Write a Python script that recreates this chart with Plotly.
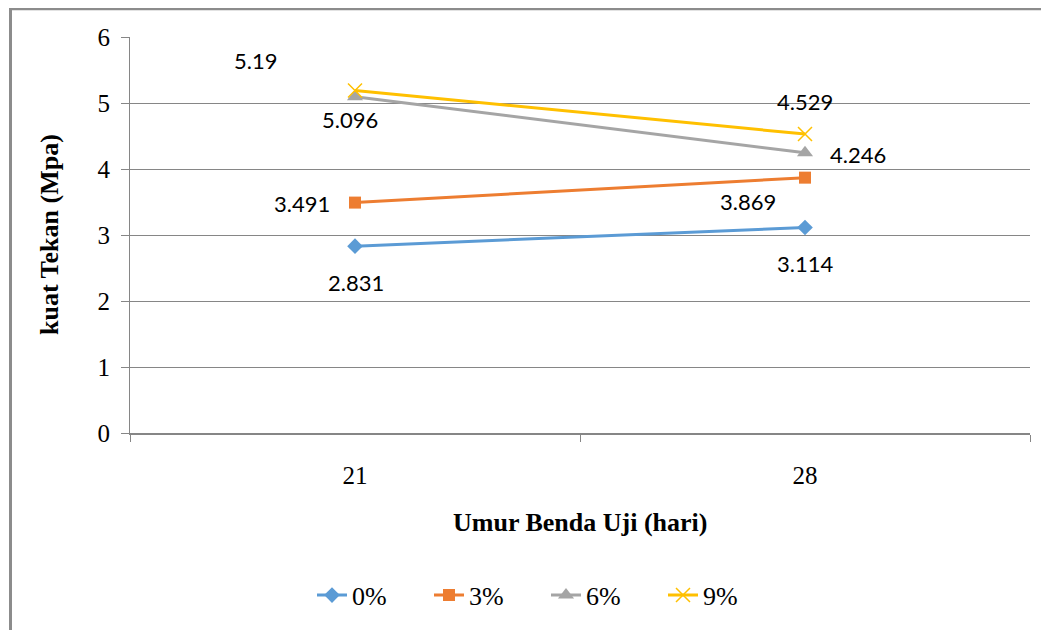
import plotly.graph_objects as go

categories = ["21", "28"]
series_names = ["0%", "3%", "6%", "9%"]
values_0 = [2.831, 3.114]
values_3 = [3.491, 3.869]
values_6 = [5.096, 4.246]
values_9 = [5.19, 4.529]
y_ticks = [0, 1, 2, 3, 4, 5, 6]

series_values = [values_0, values_3, values_6, values_9]
colors = ["#5B9BD5", "#ED7D31", "#A5A5A5", "#FFC000"]
symbols = ["diamond", "square", "triangle-up", "x-thin-open"]
msizes = [12, 12, 14, 14]
# label offsets (px) per series, per category
label_offsets = [
    [(1, -36), (0, -36)],
    [(-53, -1), (-57, -24)],
    [(-5, -23), (53, -2)],
    [(-100, 30), (0, 33)],
]

SERIF = "Liberation Serif, Times New Roman, Times, serif"

# page body has an 8px margin; figure is sized/offset to compensate
W, H = 1041, 622
L, T, R, B = 122, 29, 19, 195
PW, PH = W - L - R, H - T - B


def px_to_paper_x(fx):
    return (fx - L) / PW


def px_to_paper_y(fy):
    return (H - B - fy) / PH


fig = go.Figure()
for name, vals, col, sym, ms in zip(series_names, series_values, colors, symbols, msizes):
    marker = dict(symbol=sym, size=ms, color=col)
    if sym == "x-thin-open":
        marker["line"] = dict(color=col, width=1.5)
    fig.add_trace(go.Scatter(
        x=categories, y=vals, name=name, mode="lines+markers",
        line=dict(color=col, width=3), marker=marker,
    ))

annotations = []
for vals, offs in zip(series_values, label_offsets):
    for i, (v, (dx, dy)) in enumerate(zip(vals, offs)):
        annotations.append(dict(
            x=i, y=v, xref="x", yref="y", text=str(v), showarrow=False,
            xshift=dx, yshift=dy, font=dict(family="Lato", size=22, color="black"),
        ))

annotations.append(dict(
    x=px_to_paper_x(41), y=0.5, xref="paper", yref="paper", text="<b>kuat Tekan (Mpa)</b>",
    textangle=-90, showarrow=False, xanchor="center", yanchor="middle",
    font=dict(family=SERIF, size=26, color="black"),
))
annotations.append(dict(
    x=0.5, y=px_to_paper_y(517), xref="paper", yref="paper", text="<b>Umur Benda Uji (hari)</b>",
    showarrow=False, xanchor="center", yanchor="middle",
    font=dict(family=SERIF, size=26, color="black"),
))

fig.update_layout(
    width=W, height=H,
    margin=dict(l=L, r=R, t=T, b=B, pad=0),
    paper_bgcolor="white", plot_bgcolor="white",
    showlegend=True,
    legend=dict(orientation="h", x=px_to_paper_x(538), y=px_to_paper_y(590),
                xanchor="center", yanchor="middle",
                font=dict(family=SERIF, size=26, color="black"),
                entrywidth=72, traceorder="normal"),
    annotations=annotations,
    shapes=[dict(type="rect", xref="paper", yref="paper",
                 x0=px_to_paper_x(2.5), x1=px_to_paper_x(W + 20),
                 y0=px_to_paper_y(H + 20), y1=px_to_paper_y(0.5),
                 line=dict(color="#8C8C8C", width=3), fillcolor="rgba(0,0,0,0)", layer="below")],
)

fig.update_xaxes(
    type="category", categoryorder="array", categoryarray=categories,
    range=[-0.5, 1.5], autorange=False,
    showgrid=False, showline=True, linecolor="#868686", linewidth=2,
    ticks="outside", tickson="boundaries", ticklen=7, tickcolor="#868686",
    ticklabelstandoff=19, tickangle=0,
    tickfont=dict(family=SERIF, size=25, color="black"),
    zeroline=False,
)
fig.update_yaxes(
    range=[0, 6], tickvals=y_ticks, showgrid=True, gridcolor="#868686", gridwidth=1,
    showline=True, linecolor="#868686", linewidth=1,
    ticks="outside", ticklen=8, tickcolor="#868686",
    ticklabelstandoff=6,
    tickfont=dict(family=SERIF, size=25, color="black"),
    zeroline=False,
)

fig.write_html("out.html")
